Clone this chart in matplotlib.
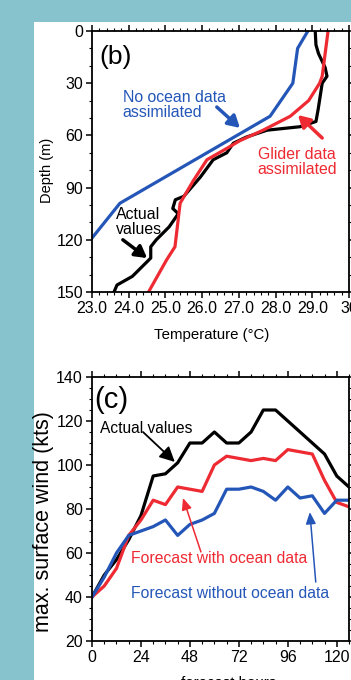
import matplotlib
matplotlib.use("Agg")
import matplotlib.pyplot as plt
from matplotlib.patches import Rectangle
from matplotlib.ticker import MultipleLocator

plt.rcParams['font.family'] = ['Liberation Sans', 'DejaVu Sans']

# panel (b): temperature profiles
blue_depth = [0, 10, 30, 49, 99, 119]
blue_temp = [28.88, 28.6, 28.47, 27.85, 23.76, 23.0]

black_depth = [0, 8, 13, 21, 26, 30, 45, 52, 55, 57, 61, 64.5, 70, 74, 84, 95, 97, 102,
               105, 112.6, 120, 124, 130.5, 141, 146, 150]
black_temp = [29.08, 29.1, 29.17, 29.35, 29.4, 29.27, 29.16, 29.1, 28.67, 27.77, 27.2, 26.85,
              26.67, 26.3, 25.95, 25.5, 25.27, 25.2, 25.35, 25.1, 24.75, 24.6, 24.6, 24.1,
              23.68, 23.6]

red_depth = [0, 26, 30, 40, 49, 57, 63, 67.5, 74, 86, 99, 124, 131.6, 150]
red_temp = [29.43, 29.27, 29.2, 28.9, 28.4, 27.66, 27.03, 26.67, 26.13, 25.76, 25.4, 25.26,
            25.03, 24.54]

# panel (c): max surface wind
hours = [0, 6, 12, 18, 24, 30, 36, 42, 48, 54, 60, 66, 72, 78, 84, 90, 96, 102, 108, 114, 120, 126]
actual = [40, 50, 57, 66, 77, 95, 96, 101, 110, 110, 115, 110, 110, 115, 125, 125, 120, 115,
          110, 105, 95, 90]
with_ocean = [40, 45, 53, 68, 75, 84, 82, 90, 89, 88, 100, 104, 103, 102, 103, 102, 107, 106,
              105, 93, 83, 81]
without_ocean = [40, 49, 60, 68, 70, 72, 75, 68, 73, 75, 78, 89, 89, 90, 88, 84, 90, 85, 86,
                 78, 84, 84]

BLUE = '#2456b8'
RED = '#ee2a33'
TEAL = '#86c3cc'

fig = plt.figure(figsize=(3.51, 6.8), dpi=100, facecolor=TEAL)
fig.patches.append(Rectangle((34 / 351, 0), 1, 1 - 22 / 680, transform=fig.transFigure,
                             facecolor='white', edgecolor='none', zorder=-10))

ax_b = fig.add_axes([92 / 351, 1 - 292 / 680, 257 / 351, 261 / 680])
ax_c = fig.add_axes([92 / 351, 1 - 641 / 680, 257 / 351, 264 / 680])


def style_axes(ax):
    ax.set_facecolor('none')
    for sp in ax.spines.values():
        sp.set_linewidth(1.3)
    ax.tick_params(which='both', direction='out', top=True, right=True, labelsize=11.5,
                   pad=2, width=1.1)
    ax.tick_params(which='major', length=4.5)
    ax.tick_params(which='minor', length=2.2, width=0.8)


# ---- panel (b)
ax_b.plot(blue_temp, blue_depth, color=BLUE, lw=2.3)
ax_b.plot(black_temp, black_depth, color='black', lw=2.3)
ax_b.plot(red_temp, red_depth, color=RED, lw=2.3)
ax_b.set_xlim(23, 30)
ax_b.set_ylim(150, 0)
ax_b.set_xticks([23, 24, 25, 26, 27, 28, 29, 30])
ax_b.set_xticklabels(['23.0', '24.0', '25.0', '26.0', '27.0', '28.0', '29.0', '30'])
ax_b.set_yticks([0, 30, 60, 90, 120, 150])
ax_b.xaxis.set_minor_locator(MultipleLocator(0.2))
ax_b.yaxis.set_minor_locator(MultipleLocator(10))
style_axes(ax_b)
ax_b.text(-0.175, 0.467, 'Depth (m)', transform=ax_b.transAxes, rotation=90,
          ha='center', va='center', fontsize=10.5)
ax_b.text(0.467, -0.165, 'Temperature (°C)', transform=ax_b.transAxes,
          ha='center', va='center', fontsize=10.8)
ax_b.text(23.2, 15, '(b)', fontsize=19, ha='left', va='center')

ax_b.text(23.84, 42.5, 'No ocean data\nassimilated', color=BLUE, fontsize=11.4,
          ha='left', va='center', linespacing=1.05)
ax_b.annotate('', xy=(27.03, 55.7), xytext=(26.4, 43.7),
              arrowprops=dict(arrowstyle='-|>,head_length=0.7,head_width=0.4',
                              color=BLUE, lw=2.5, shrinkA=0, shrinkB=0))
ax_b.text(28.58, 75.3, 'Glider data\nassimilated', color=RED, fontsize=11.4,
          ha='center', va='center', linespacing=1.05)
ax_b.annotate('', xy=(28.61, 48.3), xytext=(29.27, 61.5),
              arrowprops=dict(arrowstyle='-|>,head_length=0.7,head_width=0.4',
                              color=RED, lw=2.5, shrinkA=0, shrinkB=0))
ax_b.text(23.66, 109.8, 'Actual\nvalues', color='black', fontsize=11.4,
          ha='left', va='center', linespacing=1.05)
ax_b.annotate('', xy=(24.5, 130.5), xytext=(23.84, 120),
              arrowprops=dict(arrowstyle='-|>,head_length=0.7,head_width=0.4',
                              color='black', lw=2.5, shrinkA=0, shrinkB=0))

# ---- panel (c)
ax_c.plot(hours, actual, color='black', lw=2.3)
ax_c.plot(hours, with_ocean, color=RED, lw=2.3)
ax_c.plot(hours, without_ocean, color=BLUE, lw=2.3)
ax_c.set_xlim(0, 126)
ax_c.set_ylim(20, 140)
ax_c.set_xticks([0, 24, 48, 72, 96, 120])
ax_c.set_yticks([20, 40, 60, 80, 100, 120, 140])
ax_c.xaxis.set_minor_locator(MultipleLocator(6))
ax_c.yaxis.set_minor_locator(MultipleLocator(5))
style_axes(ax_c)
ax_c.text(-0.19, 0.451, 'max. surface wind (kts)', transform=ax_c.transAxes, rotation=90,
          ha='center', va='center', fontsize=15.5)
ax_c.text(0.53, -0.159, 'forecast hours', transform=ax_c.transAxes,
          ha='center', va='center', fontsize=10.8)
ax_c.text(1.3, 129.5, '(c)', fontsize=21, ha='left', va='center')

ax_c.text(3.9, 116.8, 'Actual values', color='black', fontsize=11.2, ha='left', va='center')
ax_c.annotate('', xy=(40.6, 101.4), xytext=(25, 115),
              arrowprops=dict(arrowstyle='-|>,head_length=0.9,head_width=0.45',
                              color='black', lw=1.3, shrinkA=0, shrinkB=0))
ax_c.text(19.1, 57.7, 'Forecast with ocean data', color=RED, fontsize=11.3,
          ha='left', va='center')
ax_c.annotate('', xy=(44.6, 85), xytext=(53.4, 60.5),
              arrowprops=dict(arrowstyle='-|>,head_length=0.7,head_width=0.3',
                              color=RED, lw=1.1, shrinkA=0, shrinkB=0))
ax_c.text(19.1, 41.8, 'Forecast without ocean data', color=BLUE, fontsize=11.3,
          ha='left', va='center')
ax_c.annotate('', xy=(106.8, 78.6), xytext=(109.7, 46.8),
              arrowprops=dict(arrowstyle='-|>,head_length=0.7,head_width=0.3',
                              color=BLUE, lw=1.1, shrinkA=0, shrinkB=0))

fig.savefig('out.png', dpi=100, facecolor=TEAL)
